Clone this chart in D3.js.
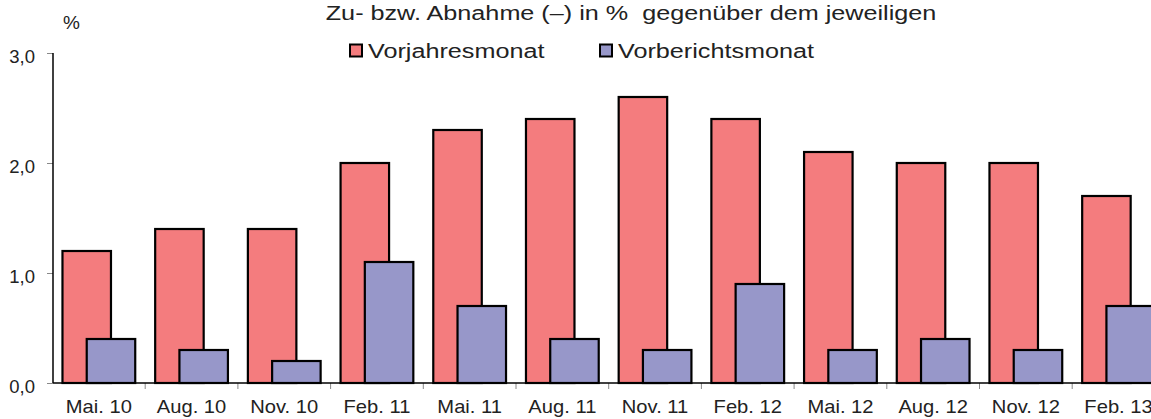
<!DOCTYPE html>
<html><head><meta charset="utf-8">
<script src="https://cdn.jsdelivr.net/npm/d3@7"></script>
<style>body{margin:0;background:#fff}svg{display:block}text{font-family:"Liberation Sans",Arial,sans-serif;fill:#222;white-space:pre}</style>
</head><body><svg id="c" width="1151" height="419"></svg>
<script>
const categories = ["Mai. 10","Aug. 10","Nov. 10","Feb. 11","Mai. 11","Aug. 11","Nov. 11","Feb. 12","Mai. 12","Aug. 12","Nov. 12","Feb. 13"];
const vorjahresmonat = [1.2,1.4,1.4,2.0,2.3,2.4,2.6,2.4,2.1,2.0,2.0,1.7];
const vorberichtsmonat = [0.4,0.3,0.2,1.1,0.7,0.4,0.3,0.9,0.3,0.4,0.3,0.7];
const yTicks = [0,1,2,3];
const seriesNames = ["Vorjahresmonat","Vorberichtsmonat"];
const colors = ["#F47C7E","#9797C9"];

const svg = d3.select("#c");
const x0 = 52.5, bw = 92.7;
const x = d3.scaleBand().domain(categories).range([x0, x0 + bw*categories.length]).padding(0);
const y = d3.scaleLinear().domain([0,3]).range([383,53]);

const barW = 48.5;
const groupW = barW*1.5;
const off = (x.bandwidth()-groupW)/2;

const g = svg.append("g");
const series = [vorjahresmonat, vorberichtsmonat];
series.forEach((vals,si)=>{
  g.selectAll(".b"+si).data(vals).enter().append("rect")
    .attr("x",(d,i)=>x(categories[i])+off+si*barW/2)
    .attr("y",d=>y(d))
    .attr("width",barW)
    .attr("height",d=>y(0)-y(d))
    .attr("fill",colors[si]).attr("stroke","#000").attr("stroke-width",2.2);
});

// y axis
const ya = svg.append("g").attr("transform","translate(53,0)").call(d3.axisLeft(y).tickValues(yTicks).tickSize(6).tickPadding(12).tickFormat(d=>d3.format(".1f")(d).replace(".",",")));
ya.select(".domain").remove();
ya.selectAll(".tick line").attr("stroke","#888");
ya.selectAll(".tick text").attr("font-size",18.5).attr("fill","#222").attr("dy","0.5em").attr("font-family","Liberation Sans, Arial, sans-serif");
svg.append("line").attr("x1",53).attr("x2",53).attr("y1",53).attr("y2",383).attr("stroke","#000").attr("stroke-width",1.5);

// x axis
const xa = svg.append("g").attr("transform","translate(0,383)").call(d3.axisBottom(x).tickSize(0).tickPadding(0).tickFormat(""));
xa.select(".domain").remove();
xa.selectAll(".tick").append("text")
  .attr("transform","translate(0,30) scale(1.12,1)")
  .attr("text-anchor","middle").attr("font-size",18).attr("fill","#222")
  .text(d=>d);
svg.append("g").selectAll("line").data(categories.slice(1)).enter().append("line")
  .attr("x1",d=>x(d)).attr("x2",d=>x(d)).attr("y1",383).attr("y2",389).attr("stroke","#888");
svg.append("line").attr("x1",53).attr("x2",1151).attr("y1",383).attr("y2",383).attr("stroke","#000").attr("stroke-width",1.5);

// labels
svg.append("text").attr("x",63).attr("y",29).attr("font-size",19).text("%");
svg.append("text").attr("transform","translate(631,20) scale(1.2,1)").attr("text-anchor","middle").attr("font-size",21).text("Zu- bzw. Abnahme (–) in %  gegenüber dem jeweiligen");

// legend
const lx = [350, 600];
seriesNames.forEach((n,i)=>{
  svg.append("rect").attr("x",lx[i]).attr("y",44.5).attr("width",12).attr("height",12).attr("fill",colors[i]).attr("stroke","#000").attr("stroke-width",2);
  svg.append("text").attr("transform",`translate(${lx[i]+18},58) scale(1.2,1)`).attr("font-size",21).text(n);
});
</script></body></html>
